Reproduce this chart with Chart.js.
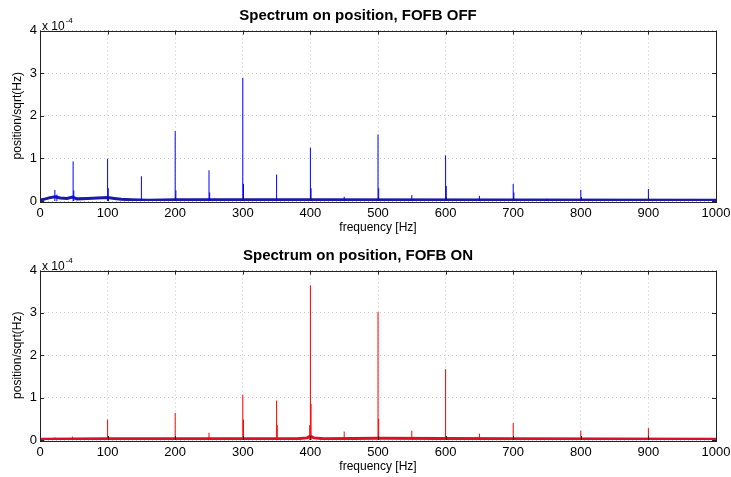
<!DOCTYPE html>
<html><head><meta charset="utf-8">
<script src="https://cdn.jsdelivr.net/npm/chart.js@4/dist/chart.umd.min.js"></script>
<style>
html,body{margin:0;padding:0;background:#fff;}
#wrap{width:731px;height:477px;position:relative;overflow:hidden;}
.box{position:absolute;left:0;width:731px;}
canvas{display:block;}
</style>
</head><body>
<div id="wrap">
  <div class="box" style="top:0;height:238px"><canvas id="c1" width="731" height="238"></canvas></div>
  <div class="box" style="top:238px;height:239px"><canvas id="c2" width="731" height="239"></canvas></div>
</div>
<script>
// ---- data (y in units of 1e-4 position/sqrt(Hz)) ----
const xTicks = [0,100,200,300,400,500,600,700,800,900,1000];
const yTicks = [0,1,2,3,4];
const titleOff = 'Spectrum on position, FOFB OFF';
const titleOn  = 'Spectrum on position, FOFB ON';
const xLabel = 'frequency [Hz]';
const yLabel = 'position/sqrt(Hz)';

// FOFB OFF : spectral lines
const offPeakFreq = [22, 25, 49, 50, 100, 101, 150, 200, 201, 250, 251, 300, 301, 350, 400, 401, 450, 500, 501, 550, 600, 601, 650, 700, 701, 750, 800, 900];
const offPeakVal  = [0.26, 0.15, 0.93, 0.25, 0.99, 0.3, 0.58, 1.64, 0.25, 0.72, 0.2, 2.89, 0.4, 0.62, 1.25, 0.3, 0.1, 1.56, 0.3, 0.14, 1.07, 0.35, 0.12, 0.40, 0.2, 0.05, 0.26, 0.28];
// FOFB OFF : noise floor
const offFloorFreq = [0, 8, 15, 22, 30, 40, 48, 55, 70, 85, 100, 110, 120, 135, 160, 200, 400, 1000];
const offFloorVal  = [0.02, 0.05, 0.08, 0.1, 0.07, 0.06, 0.09, 0.05, 0.06, 0.07, 0.08, 0.06, 0.04, 0.03, 0.02, 0.03, 0.03, 0.02];

// FOFB ON : spectral lines
const onPeakFreq = [22, 48, 100, 200, 250, 300, 301, 350, 351, 400, 401, 399, 450, 500, 501, 550, 600, 650, 700, 800, 900];
const onPeakVal  = [0.06, 0.08, 0.48, 0.64, 0.17, 1.07, 0.48, 0.93, 0.35, 3.65, 0.85, 0.35, 0.2, 3.02, 0.5, 0.22, 1.67, 0.15, 0.40, 0.22, 0.28];
// FOFB ON : noise floor
const onFloorFreq = [0, 100, 200, 380, 395, 400, 405, 420, 500, 700, 1000];
const onFloorVal  = [0.02, 0.03, 0.03, 0.03, 0.05, 0.09, 0.05, 0.03, 0.04, 0.03, 0.02];

const FONT = '"Liberation Sans", Arial, Helvetica, sans-serif';

function spikes(freq, val) {
  const pts = [];
  for (let i = 0; i < freq.length; i++) {
    pts.push({x: freq[i], y: 0}, {x: freq[i], y: val[i]}, {x: freq[i], y: null});
  }
  return pts;
}
function floorPts(freq, val) { return freq.map((f, i) => ({x: f, y: val[i]})); }

const framePlugin = {
  id: 'frame',
  afterDatasetsDraw(chart) {
    const {ctx, chartArea: a, scales} = chart;
    ctx.save();
    ctx.strokeStyle = '#222';
    ctx.lineWidth = 1;
    ctx.beginPath();
    xTicks.forEach(v => {
      const x = Math.round(scales.x.getPixelForValue(v)) + 0.5;
      ctx.moveTo(x, a.bottom); ctx.lineTo(x, a.bottom - 4);
      ctx.moveTo(x, a.top); ctx.lineTo(x, a.top + 4);
    });
    yTicks.forEach(v => {
      const y = Math.round(scales.y.getPixelForValue(v)) + 0.5;
      ctx.moveTo(a.left, y); ctx.lineTo(a.left + 4, y);
      ctx.moveTo(a.right, y); ctx.lineTo(a.right - 4, y);
    });
    ctx.stroke();
    ctx.strokeRect(Math.round(a.left) + 0.5, Math.round(a.top) + 0.5, Math.round(a.right - a.left), Math.round(a.bottom - a.top));
    ctx.fillStyle = '#000';
    ctx.textBaseline = 'alphabetic';
    ctx.textAlign = 'left';
    ctx.font = '12px ' + FONT;
    ctx.fillText('x 10', a.left + 2, a.top - 1);
    const w = ctx.measureText('x 10').width;
    ctx.font = '8px ' + FONT;
    ctx.fillText('-4', a.left + 2 + w + 1, a.top - 8);
    ctx.restore();
  }
};

function makeChart(id, title, peakF, peakV, floorF, floorV, lineColor, floorColor, titleTop) {
  return new Chart(document.getElementById(id), {
    type: 'line',
    data: {
      datasets: [
        { data: spikes(peakF, peakV), borderColor: lineColor, borderWidth: 1, pointRadius: 0, spanGaps: false, tension: 0 },
        { data: floorPts(floorF, floorV), borderColor: floorColor, borderWidth: 3, pointRadius: 0, tension: 0 }
      ]
    },
    options: {
      responsive: false,
      animation: false,
      events: [],
      layout: { padding: { left: 0, right: 15, top: 0, bottom: 0 } },
      plugins: {
        legend: { display: false },
        tooltip: { enabled: false },
        title: {
          display: true, text: title, color: '#000',
          font: { family: FONT, size: 15, weight: 'bold', lineHeight: 1.1 },
          padding: { top: titleTop, bottom: 6 }
        }
      },
      scales: {
        x: {
          type: 'linear', min: 0, max: 1000,
          afterBuildTicks: s => { s.ticks = xTicks.map(v => ({value: v})); },
          afterFit: s => { s.height = 37; s.paddingRight = 0; s.paddingLeft = 0; },
          ticks: { color: '#000', font: { family: FONT, size: 13 }, padding: 5, maxRotation: 0, autoSkip: false, callback: v => String(v) },
          grid: { color: '#c8c8c8', drawTicks: false },
          border: { display: false, dash: [1, 3] },
          title: { display: true, text: xLabel, color: '#000', font: { family: FONT, size: 12 }, padding: { top: 0, bottom: 3 } }
        },
        y: {
          type: 'linear', min: 0, max: 4,
          afterBuildTicks: s => { s.ticks = yTicks.map(v => ({value: v})); },
          afterFit: s => { s.width = 40; },
          ticks: { color: '#000', font: { family: FONT, size: 13 }, padding: 3, callback: v => String(v) },
          grid: { color: '#c8c8c8', drawTicks: false },
          border: { display: false, dash: [1, 3] },
          title: { display: true, text: yLabel, color: '#000', font: { family: FONT, size: 12 }, padding: { top: 10, bottom: 0 } }
        }
      }
    },
    plugins: [framePlugin]
  });
}

makeChart('c1', titleOff, offPeakFreq, offPeakVal, offFloorFreq, offFloorVal, '#0000ff', '#1a1aa8', 8);
makeChart('c2', titleOn, onPeakFreq, onPeakVal, onFloorFreq, onFloorVal, '#ff0000', '#d8102a', 10);
</script>
</body></html>
